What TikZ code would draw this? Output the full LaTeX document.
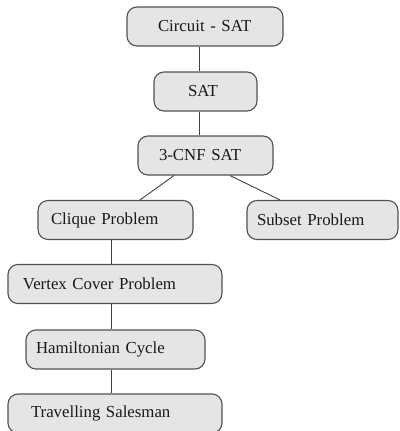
\documentclass[tikz,border=0pt]{standalone}
\usepackage{fontspec}
\setmainfont{Liberation Serif}
\begin{document}
\begin{tikzpicture}[x=1pt,y=-1pt,
  box/.style={draw=black!68, line width=1.1pt, fill=black!10, rounded corners=10pt,
    minimum height=39pt, align=left, inner ysep=0pt,
    font=\fontsize{16.8}{20}\selectfont, text=black!90},
  conn/.style={draw=black!75, line width=0.9pt}]
\useasboundingbox (0,0) rectangle (399,431);
\clip (0,0) rectangle (399,431);
% boxes: width W, left pad p -> text width W-2p, inner xsep p
\node[box, inner xsep=31pt, text width=94pt] (circ) at (205,26.5) {Circuit - SAT};
\node[box, inner xsep=34pt, text width=35pt] (sat) at (205.5,91.5) {SAT};
\node[box, inner xsep=21pt, text width=93pt] (cnf) at (205.5,155.5) {3-CNF SAT};
\node[box, inner xsep=13pt, text width=129pt] (clq) at (115.5,220) {Clique Problem};
\node[box, inner xsep=10pt, text width=131pt] (sub) at (322.5,220) {Subset Problem};
\node[box, inner xsep=15pt, text width=184pt] (vc) at (115,284) {Vertex Cover Problem};
\node[box, inner xsep=10pt, text width=159pt] (ham) at (115.5,349.5) {Hamiltonian Cycle};
\node[box, inner xsep=23pt, text width=168pt] (tsp) at (115,413.5) {Travelling Salesman};
% connectors
\draw[conn] ([xshift=-6pt]circ.south) -- ([xshift=-6pt]circ.south |- sat.north);
\draw[conn] ([xshift=-6.5pt]sat.south) -- ([xshift=-6.5pt]sat.south |- cnf.north);
\draw[conn] ([xshift=-31.5pt]cnf.south) -- ([xshift=24.5pt]clq.north);
\draw[conn] ([xshift=24.5pt]cnf.south) -- ([xshift=-42.5pt]sub.north);
\draw[conn] ([xshift=-4.5pt]clq.south) -- ([xshift=-4.5pt]clq.south |- vc.north);
\draw[conn] ([xshift=-4pt]vc.south) -- ([xshift=-4pt]vc.south |- ham.north);
\draw[conn] ([xshift=-4.5pt]ham.south) -- ([xshift=-4.5pt]ham.south |- tsp.north);
\end{tikzpicture}
\end{document}
